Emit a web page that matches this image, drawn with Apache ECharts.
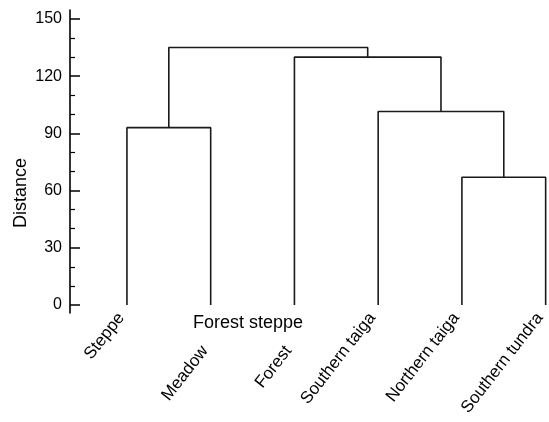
<!DOCTYPE html>
<html>
<head>
<meta charset="utf-8">
<script src="https://cdn.jsdelivr.net/npm/echarts@6/dist/echarts.min.js"></script>
<style>
  html, body { margin: 0; padding: 0; background: #fff; }
  #chart { width: 549px; height: 422px; }
</style>
</head>
<body>
<div id="chart"></div>
<script>
// leaves of the tree, left to right
var leaves = ['Steppe', 'Meadow', 'Forest', 'Southern taiga', 'Northern taiga', 'Southern tundra'];
// leaves whose labels sit on the lower row
var lowLeaves = ['Meadow', 'Forest'];
// merges: [left node, right node, distance]; nodes >= leaves.length are earlier merges
var merges = [
  [0, 1, 93],
  [4, 5, 67],
  [3, 7, 101.5],
  [2, 8, 130],
  [6, 9, 135]
];
var majorTicks = [0, 30, 60, 90, 120, 150];
var minorTicks = [10, 20, 40, 50, 70, 80, 100, 110, 130, 140];
var floatingLabel = 'Forest steppe';
var yName = 'Distance';

// node positions: leaves at 1..n, clusters at the mean of their children
var nodes = leaves.map(function (name, i) { return { x: i + 1, h: 0 }; });
var series = merges.map(function (m) {
  var a = nodes[m[0]], b = nodes[m[1]];
  nodes.push({ x: (a.x + b.x) / 2, h: m[2] });
  return {
    type: 'line',
    symbol: 'none',
    silent: true,
    animation: false,
    lineStyle: { color: '#1a1a1a', width: 1.6 },
    data: [[a.x, a.h], [a.x, m[2]], [b.x, m[2]], [b.x, b.h]]
  };
});

var font = 'Liberation Sans, Arial, sans-serif';
// labels sit a little left of their leaf line
var labelShift = 0.07;
function xAxisFor(names, offset) {
  return {
    type: 'value',
    position: 'bottom',
    min: 0.32,
    max: 6.04,
    offset: offset,
    axisLine: { show: false },
    axisTick: { show: false },
    splitLine: { show: false },
    axisLabel: {
      customValues: leaves.map(function (n, i) { return i + 1; })
        .filter(function (v) { return names.indexOf(leaves[v - 1]) >= 0; })
        .map(function (v) { return v - labelShift; }),
      formatter: function (v) { return leaves[Math.round(v) - 1] || ''; },
      rotate: 52,
      margin: 2,
      color: '#000',
      fontSize: 17,
      fontFamily: font
    }
  };
}

var chart = echarts.init(document.getElementById('chart'));
chart.setOption({
  animation: false,
  grid: { left: 70, right: 0, top: 10, bottom: 109, containLabel: false, outerBoundsMode: 'none' },
  xAxis: [
    xAxisFor(leaves.filter(function (n) { return lowLeaves.indexOf(n) < 0; }), 0),
    xAxisFor(lowLeaves, 33)
  ],
  yAxis: [{
    type: 'value',
    min: -4.2,
    max: 154.7,
    axisLine: { show: true, lineStyle: { color: '#000', width: 1.6 } },
    axisTick: { show: true, inside: true, length: 10, customValues: majorTicks, lineStyle: { color: '#000', width: 1.5 } },
    axisLabel: { customValues: majorTicks, margin: 8, color: '#000', fontSize: 16, fontFamily: font },
    splitLine: { show: false }
  }, {
    type: 'value',
    position: 'left',
    min: -4.2,
    max: 154.7,
    axisLine: { show: false },
    axisTick: { show: true, inside: true, length: 5, customValues: minorTicks, lineStyle: { color: '#000', width: 1.2 } },
    axisLabel: { show: false },
    splitLine: { show: false }
  }],
  graphic: [{
    type: 'text',
    x: 248,
    y: 323,
    style: { text: floatingLabel, fill: '#000', font: '18px ' + font, align: 'center', verticalAlign: 'middle' }
  }, {
    type: 'text',
    x: 21,
    y: 193,
    rotation: Math.PI / 2,
    style: { text: yName, fill: '#000', font: '18px ' + font, align: 'center', verticalAlign: 'middle' }
  }],
  series: series
});
</script>
</body>
</html>
